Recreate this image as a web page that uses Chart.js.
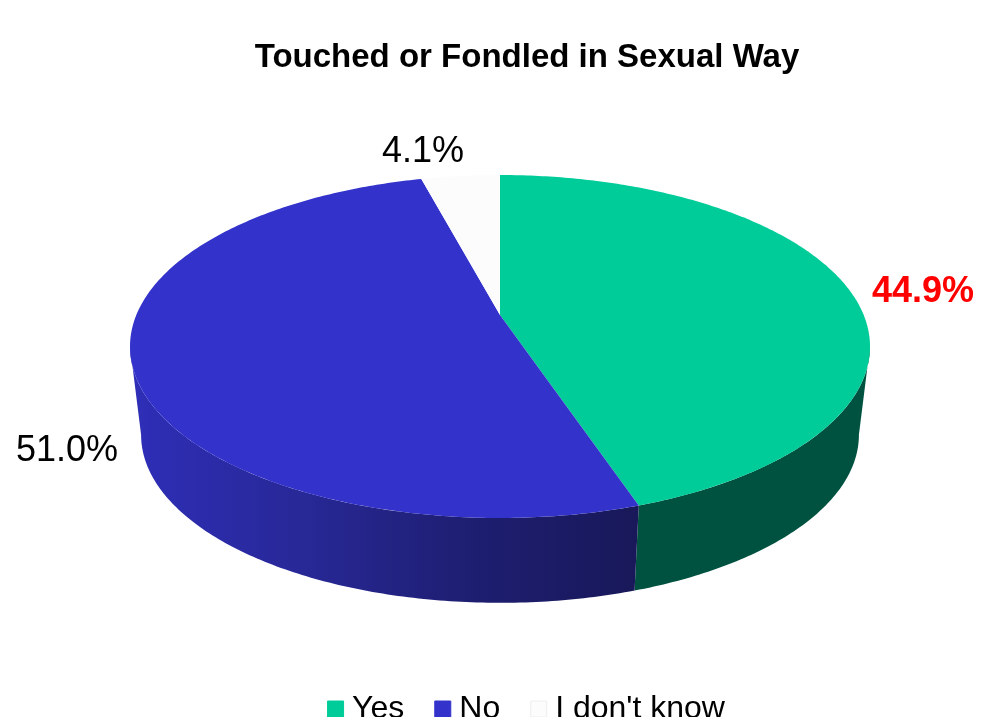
<!DOCTYPE html>
<html>
<head>
<meta charset="utf-8">
<style>
  html, body { margin: 0; padding: 0; background: #fff; overflow: hidden; height: 717px; }
  canvas { display: block; }
</style>
</head>
<body>
<canvas id="myChart" width="992" height="735"></canvas>
<script src="https://cdn.jsdelivr.net/npm/chart.js@4/dist/chart.umd.min.js"></script>
<script>
const chartTitle = 'Touched or Fondled in Sexual Way'
const categories = ['Yes', 'No', "I don't know"]
const values = [44.9, 51.0, 4.1]
const sliceColors = ['#00CC99', '#3333CC', '#FCFCFC']
const edgeColors = ['#00CC99', '#3333CC', '#EEEEEE']
const wallColors = [
  ['#005240', '#005240'],
  ['#2E2EB8', '#282898', '#1E1E72', '#18185A'],
  ['#E0E0E0', '#E0E0E0']
]
const labelColors = ['#FF0000', '#000000', '#000000']
const labelFonts = ['bold 36px "Liberation Sans"', '36px "Liberation Sans"', '36px "Liberation Sans"']
// where the percent labels sit, [center x, baseline y]
const labelSpots = [[923, 302], [67, 461], [423, 162]]

// perspective of the pie, top face and bottom face
const topFace = { cx: 500, cy: 315, a: 363.7, b: 165.7 }
const bottomFace = { cx: 500, cy: 404, a: 352.8, b: 162.3 }
const tilt = 0.1837
// the wall is only seen between the two widest points of the rim
const wallFrom = Math.asin(tilt)
const wallTo = Math.PI - wallFrom

function project(face, angle) {
  const u = Math.cos(angle)
  const v = Math.sin(angle)
  const s = 1 / (1 - tilt * v)
  return [face.cx + face.a * u * s, face.cy + face.b * v * s]
}

function traceRim(ctx, face, from, to) {
  const steps = Math.max(8, Math.ceil(Math.abs(to - from) * 80))
  for (let i = 0; i <= steps; i++) {
    const p = project(face, from + (to - from) * i / steps)
    ctx.lineTo(p[0], p[1])
  }
}

const tiltedPie = {
  id: 'tiltedPie',
  afterLayout(chart) {
    // legend sits a little right of the title in the reference
    chart.legend.left += 3
    chart.legend.right += 3
  },
  beforeDatasetsDraw(chart) {
    const ctx = chart.ctx
    const arcs = chart.getDatasetMeta(0).data
    ctx.save()

    arcs.forEach((arc, i) => {
      const from = Math.max(arc.startAngle, wallFrom)
      const to = Math.min(arc.endAngle, wallTo)
      if (from >= to) return
      const grad = ctx.createLinearGradient(130, 0, 636, 0)
      wallColors[i].forEach((c, j) => grad.addColorStop(j / (wallColors[i].length - 1), c))
      ctx.beginPath()
      traceRim(ctx, topFace, from, to)
      traceRim(ctx, bottomFace, to, from)
      ctx.closePath()
      ctx.fillStyle = grad
      ctx.fill()
    })

    arcs.forEach((arc, i) => {
      ctx.beginPath()
      ctx.moveTo(topFace.cx, topFace.cy)
      traceRim(ctx, topFace, arc.startAngle, arc.endAngle)
      ctx.closePath()
      ctx.fillStyle = sliceColors[i]
      ctx.fill()
    })

    ctx.textAlign = 'center'
    ctx.textBaseline = 'alphabetic'
    values.forEach((v, i) => {
      ctx.font = labelFonts[i]
      ctx.fillStyle = labelColors[i]
      ctx.fillText(v.toFixed(1) + '%', labelSpots[i][0], labelSpots[i][1])
    })
    ctx.restore()
    return false
  }
}

new Chart(document.getElementById('myChart'), {
  type: 'pie',
  plugins: [tiltedPie],
  data: {
    labels: categories,
    datasets: [{
      data: values,
      backgroundColor: sliceColors,
      borderColor: edgeColors,
      borderWidth: 1
    }]
  },
  options: {
    responsive: false,
    animation: false,
    layout: { padding: { left: 62, top: 38, bottom: 0 } },
    plugins: {
      tooltip: { enabled: false },
      title: {
        display: true,
        text: chartTitle,
        color: '#000000',
        font: { family: '"Liberation Sans"', size: 33, weight: 'bold' },
        padding: 0
      },
      legend: {
        position: 'bottom',
        labels: {
          usePointStyle: true,
          pointStyle: 'rect',
          boxWidth: 1,
          boxHeight: 16,
          padding: 38,
          color: '#000000',
          font: { family: '"Liberation Sans"', size: 32 }
        }
      }
    }
  }
})
</script>
</body>
</html>
